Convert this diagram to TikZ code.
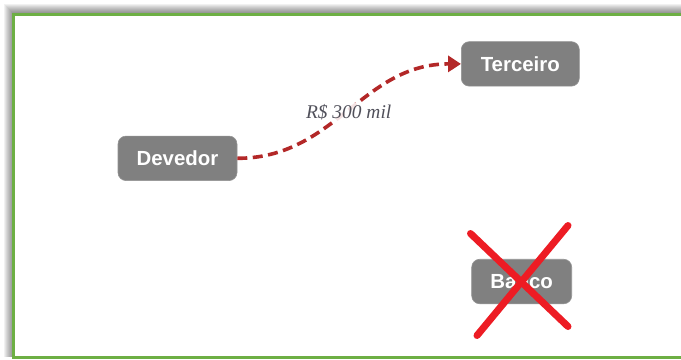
\documentclass[tikz,border=0pt]{standalone}
\usepackage{fontspec}
\newfontfamily\boxfont{Liberation Sans}
\newfontfamily\labelfont{Liberation Serif}
\usetikzlibrary{arrows.meta}
\definecolor{boxgray}{HTML}{808080}
\definecolor{framegreen}{HTML}{6DAF44}
\definecolor{flowred}{HTML}{B32828}
\definecolor{crossred}{HTML}{ED1C24}
\definecolor{labelgray}{HTML}{50505A}
\tikzset{
  party/.style={fill=boxgray, draw=boxgray!85!white, line width=0.6bp,
    rounded corners=8bp, text=white,
    font=\boxfont\bfseries\fontsize{20.5}{24}\selectfont,
    inner sep=0pt, minimum height=44.5bp},
  flow/.style={draw=flowred, line width=3.6bp, dash pattern=on 10bp off 5.5bp,
    -{Triangle[length=13bp,width=16bp]}},
  amount/.style={fill=white, fill opacity=0.88, text opacity=1, text=labelgray,
    font=\labelfont\itshape\fontsize{19.5}{23}\selectfont, inner sep=1bp},
  cross/.style={draw=crossred, line width=7bp, line cap=round}
}
\begin{document}
\begin{tikzpicture}[x=1bp,y=-1bp]
  \clip (0,0) rectangle (681,359);
  % soft grey shadow behind the frame (top and left)
  \foreach \i in {0,...,8}
    \fill[black, opacity=0.055] (4+\i,4+\i) rectangle (700,357);
  % frame: white panel with green border
  \fill[white] (13,14) rectangle (700,357);
  \draw[framegreen, line width=3bp] (700,14) -- (13,14) -- (13,357) -- (700,357);

  % parties
  \node[party, minimum width=119bp] (devedor) at (177.5,158.3) {Devedor};
  \node[party, minimum width=118bp] (terceiro) at (520.3,63.9) {Terceiro};
  \node[party, minimum width=100bp] (banco) at (521.7,281.5) {Banco};

  % payment flow
  \draw[flow] (devedor.east) .. controls (335,158.3) and (362,63.9) .. (terceiro.west)
    node[amount, pos=0.5, yshift=-1bp] (valor) {R\$ 300 mil};

  % bank crossed out
  \draw[cross] (470.5,233.5) -- (568,326.5);
  \draw[cross] (568,225.5) -- (477,335.5);
\end{tikzpicture}
\end{document}
